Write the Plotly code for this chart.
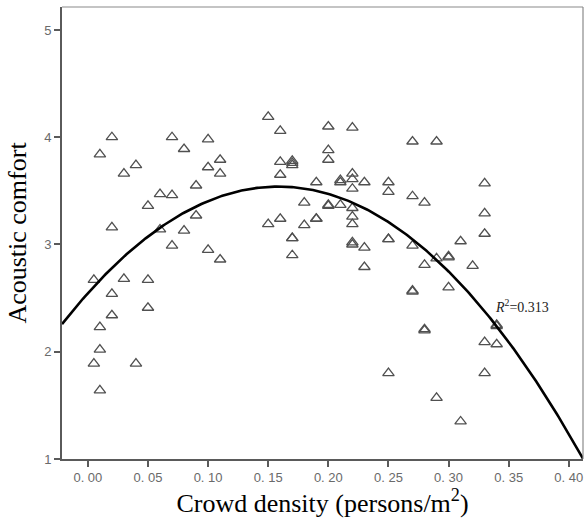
import numpy as np
import plotly.graph_objects as go

# Scatter data: crowd density (persons/m^2) and acoustic comfort
density = [
    0.005, 0.005, 0.01, 0.01, 0.01, 0.01, 0.02, 0.02, 0.02, 0.02,
    0.03, 0.03, 0.04, 0.04, 0.05, 0.05, 0.05, 0.06, 0.06, 0.07,
    0.07, 0.07, 0.08, 0.08, 0.09, 0.09, 0.10, 0.10, 0.10, 0.11,
    0.11, 0.11, 0.15, 0.15, 0.16, 0.16, 0.16, 0.16, 0.17, 0.17,
    0.17, 0.17, 0.17, 0.18, 0.18, 0.19, 0.19, 0.19, 0.20, 0.20,
    0.20, 0.20, 0.20, 0.21, 0.21, 0.21, 0.22, 0.22, 0.22, 0.22,
    0.22, 0.22, 0.22, 0.22, 0.22, 0.23, 0.23, 0.23, 0.25, 0.25,
    0.25, 0.25, 0.27, 0.27, 0.27, 0.27, 0.27, 0.28, 0.28, 0.28,
    0.28, 0.29, 0.29, 0.29, 0.30, 0.30, 0.30, 0.31, 0.31, 0.32,
    0.33, 0.33, 0.33, 0.33, 0.33, 0.34, 0.34, 0.34, 0.25, 0.17,
]
comfort = [
    2.67, 1.89, 3.84, 2.23, 2.02, 1.64, 4.00, 3.16, 2.54, 2.34,
    3.66, 2.68, 3.74, 1.89, 3.36, 2.67, 2.41, 3.47, 3.14, 4.00,
    3.46, 2.99, 3.89, 3.13, 3.55, 3.27, 3.98, 3.72, 2.95, 3.79,
    3.66, 2.86, 4.19, 3.19, 4.06, 3.77, 3.65, 3.24, 3.78, 3.74,
    3.76, 3.06, 2.90, 3.39, 3.18, 3.58, 3.24, 3.24, 4.10, 3.88,
    3.79, 3.37, 3.36, 3.58, 3.60, 3.37, 4.09, 3.66, 3.61, 3.52,
    3.34, 3.26, 3.19, 3.02, 3.00, 3.58, 2.97, 2.79, 3.58, 3.49,
    3.05, 1.80, 3.96, 3.45, 2.99, 2.57, 2.56, 3.39, 2.81, 2.21,
    2.20, 3.96, 2.87, 1.57, 2.88, 2.89, 2.60, 3.03, 1.35, 2.80,
    3.57, 3.29, 3.10, 2.09, 1.80, 2.24, 2.25, 2.07, 3.05, 3.06,
]

# Quadratic fit coefficients (y = a + b*x + c*x^2), R^2 = 0.313
fit_coef = [2.546, 12.54, -39.55]
r2_text = "<i>R</i><sup>2</sup>=0.313"

x_ticks = [0.00, 0.05, 0.10, 0.15, 0.20, 0.25, 0.30, 0.35, 0.40]
x_ticktext = ["0.\u00a000", "0.\u00a005", "0.\u00a010", "0.\u00a015", "0.\u00a020",
              "0.\u00a025", "0.\u00a030", "0.\u00a035", "0.\u00a040"]
y_ticks = [1, 2, 3, 4, 5]

x_range = [-0.0215, 0.4118]
y_range = [1, 5.214]

xf = np.linspace(x_range[0], x_range[1], 300)
yf = fit_coef[0] + fit_coef[1] * xf + fit_coef[2] * xf ** 2

fig = go.Figure()
fig.add_trace(go.Scatter(
    x=density, y=comfort, mode="markers",
    marker=dict(symbol="triangle-up-open", size=10, color="#505050",
                line=dict(width=1.3, color="#505050")),
    showlegend=False,
))
fig.add_trace(go.Scatter(
    x=xf, y=yf, mode="lines", line=dict(color="black", width=2.6),
    showlegend=False,
))

fig.add_annotation(
    x=0.337, y=2.43, xref="x", yref="y", text=r2_text, showarrow=False,
    xanchor="left", yanchor="middle",
    font=dict(family="Liberation Serif", size=14, color="#222222"),
)

# lighter top and right frame lines
fig.add_shape(type="line", xref="x domain", yref="y domain", x0=0, x1=1, y0=1, y1=1,
              line=dict(color="#8a8a8a", width=1.2))
fig.add_shape(type="line", xref="x domain", yref="y domain", x0=1, x1=1, y0=0, y1=1,
              line=dict(color="#8a8a8a", width=1.2))

fig.update_layout(
    width=587, height=526,
    margin=dict(l=62, r=4, t=7, b=67),
    paper_bgcolor="white", plot_bgcolor="white",
    font=dict(family="Liberation Serif", color="#111111"),
)
fig.update_xaxes(
    range=x_range, tickvals=x_ticks, ticktext=x_ticktext,
    showgrid=False, zeroline=False,
    showline=True, linecolor="#5a5a5a", linewidth=1.6,
    ticks="outside", ticklen=6, tickwidth=1.5, tickcolor="#5a5a5a",
    tickfont=dict(family="Liberation Sans", size=13, color="#6a6a6a"),
    title=dict(text="Crowd density (persons/m<sup>2</sup>)",
               font=dict(family="Liberation Serif", size=26, color="#000000"),
               standoff=6),
)
fig.update_yaxes(
    range=y_range, tickvals=y_ticks,
    showgrid=False, zeroline=False,
    showline=True, linecolor="#5a5a5a", linewidth=1.6,
    ticks="outside", ticklen=6, tickwidth=1.5, tickcolor="#5a5a5a",
    tickfont=dict(family="Liberation Sans", size=13, color="#6a6a6a"),
    title=dict(text="Acoustic comfort",
               font=dict(family="Liberation Serif", size=26, color="#000000"),
               standoff=10),
)

fig.write_html("out.html")
